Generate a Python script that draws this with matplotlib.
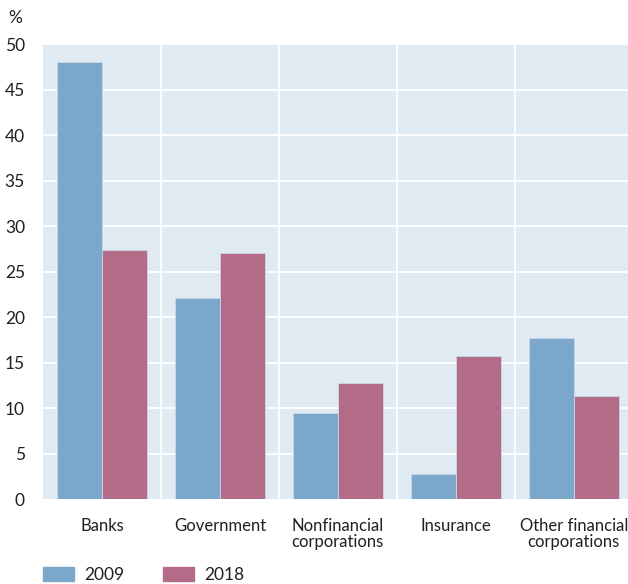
import numpy as np
import matplotlib.pyplot as plt
from matplotlib.patches import Patch

# Chart data
categories = ["Banks", "Government", "Nonfinancial\ncorporations", "Insurance", "Other financial\ncorporations"]
values_2009 = [48.0, 22.1, 9.5, 2.8, 17.7]
values_2018 = [27.4, 27.0, 12.7, 15.7, 11.3]
series_names = ["2009", "2018"]
yticks = [0, 5, 10, 15, 20, 25, 30, 35, 40, 45, 50]

plt.rcParams['font.family'] = ['Lato', 'DejaVu Sans']
blue = "#7BA7CB"
red = "#B36B87"
text_color = "#231F20"

fig = plt.figure(figsize=(6.28, 5.84), dpi=100)
ax = fig.add_axes([0.0685, 0.1455, 0.9315, 0.779])
ax.set_facecolor("#E0EAF3")

x = np.arange(len(categories))
w = 0.38
ax.bar(x - w / 2, values_2009, w, color=blue, edgecolor="#C9D9E8", linewidth=0.6, zorder=3)
ax.bar(x + w / 2, values_2018, w, color=red, edgecolor="#C9D9E8", linewidth=0.6, zorder=3)

# Grid: white horizontal lines at ticks, vertical lines between categories
for y in yticks[1:]:
    ax.axhline(y, color="white", linewidth=1.3, zorder=1)
for b in x[:-1] + 0.5:
    ax.axvline(b, color="white", linewidth=1.3, zorder=1)

ax.set_ylim(0, 50)
ax.set_xlim(-0.5, 4.46)
ax.set_yticks(yticks)
ax.set_yticklabels([str(t) for t in yticks], fontsize=12.5, color=text_color)
ax.set_xticks(x)
ax.set_xticklabels(categories, fontsize=12, color=text_color, linespacing=0.95)
ax.tick_params(axis="both", length=0)
ax.tick_params(axis="y", pad=13)
ax.tick_params(axis="x", pad=14)
for s in ax.spines.values():
    s.set_visible(False)

fig.text(0.013, 0.96, "%", fontsize=12.5, color=text_color)

handles = [Patch(color=blue), Patch(color=red)]
fig.legend(handles, series_names, loc="lower left", bbox_to_anchor=(0.043, -0.025),
           ncol=2, frameon=False, fontsize=12.5, handlelength=1.8, handleheight=0.8,
           columnspacing=2.2, handletextpad=0.6, labelcolor=text_color)

fig.savefig("out.png", dpi=100)
